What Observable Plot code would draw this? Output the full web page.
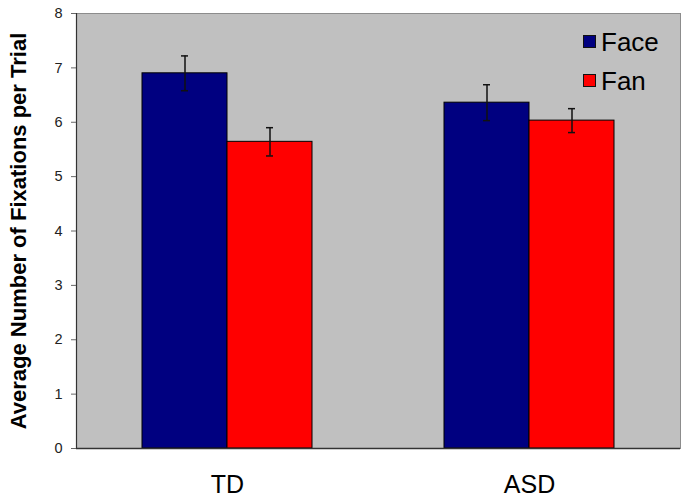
<!DOCTYPE html>
<html><head><meta charset="utf-8">
<script src="https://cdn.jsdelivr.net/npm/d3@7"></script>
<script src="https://cdn.jsdelivr.net/npm/@observablehq/plot@0.6"></script>
<style>
body{margin:0;background:#fff;}
#chart{position:relative;width:687px;height:501px;font-family:"Liberation Sans",Arial,sans-serif;}
#legend{position:absolute;left:583px;top:22px;}
.row{display:flex;align-items:center;height:39px;}
.sw{width:11px;height:11px;border:1px solid #111;margin-right:5px;}
.lab{font-size:26px;line-height:26px;color:#000;}
</style></head><body><div id="chart"></div>
<script>
const groups = ["TD", "ASD"];
const series = ["Face", "Fan"];
const seriesColors = ["#000080", "#FF0000"];
const rowGroup = ["TD", "TD", "ASD", "ASD"];
const rowSeries = ["Face", "Fan", "Face", "Fan"];
const means = [6.90, 5.64, 6.36, 6.03];
const errs = [0.32, 0.26, 0.33, 0.22];
const yTicks = [0, 1, 2, 3, 4, 5, 6, 7, 8];
const yLabel = "Average Number of Fixations per Trial";

const data = means.map((m, i) => ({group: rowGroup[i], series: rowSeries[i], mean: m, lo: m - errs[i], hi: m + errs[i]}));

const plot = Plot.plot({
  width: 687, height: 501,
  marginLeft: 76, marginRight: 7, marginTop: 13, marginBottom: 53,
  style: {fontFamily: "Liberation Sans, Arial, sans-serif", background: "#fff", color: "#000"},
  fx: {domain: groups, padding: 0, axis: null, label: null},
  x: {domain: series, paddingInner: 0, paddingOuter: 0.756, axis: null},
  y: {domain: [0, 8], axis: null},
  color: {domain: series, range: seriesColors},
  marks: [
    Plot.frame({facet: "super", fill: "#C0C0C0", stroke: "#8c8c8c"}),
    Plot.barY(data, {fx: "group", x: "series", y: "mean", fill: "series", stroke: "#000", strokeWidth: 1}),
    Plot.ruleX(data, {fx: "group", x: "series", y1: "lo", y2: "hi", stroke: "#111", strokeWidth: 1.5}),
    Plot.tickY(data, {fx: "group", x: "series", y: "lo", stroke: "#111", strokeWidth: 1.5, insetLeft: 39, insetRight: 39}),
    Plot.tickY(data, {fx: "group", x: "series", y: "hi", stroke: "#111", strokeWidth: 1.5, insetLeft: 39, insetRight: 39}),
    Plot.ruleY([0], {stroke: "#333", strokeWidth: 1.5}),
    Plot.frame({facet: "super", anchor: "left", stroke: "#333", strokeWidth: 1.2}),
    Plot.axisY({ticks: yTicks, tickSize: 5, tickPadding: 9, fontSize: 14.5, label: null, stroke: "#666", fill: "#222"}),
    Plot.axisY({ticks: [], tickSize: 0, label: yLabel, labelAnchor: "center", labelOffset: 66, labelArrow: "none", fontSize: 22, fontWeight: "bold", fill: "#000"}),
    Plot.axisFx({anchor: "bottom", tickSize: 0, tickPadding: 27, fontSize: 25, label: null, fill: "#000"})
  ]
});

const chart = document.getElementById("chart");
chart.appendChild(plot);

const legend = d3.select(chart).append("div").attr("id", "legend");
series.forEach((s, i) => {
  const row = legend.append("div").attr("class", "row");
  row.append("div").attr("class", "sw").style("background", seriesColors[i]);
  row.append("div").attr("class", "lab").text(s);
});
</script>
</body></html>
